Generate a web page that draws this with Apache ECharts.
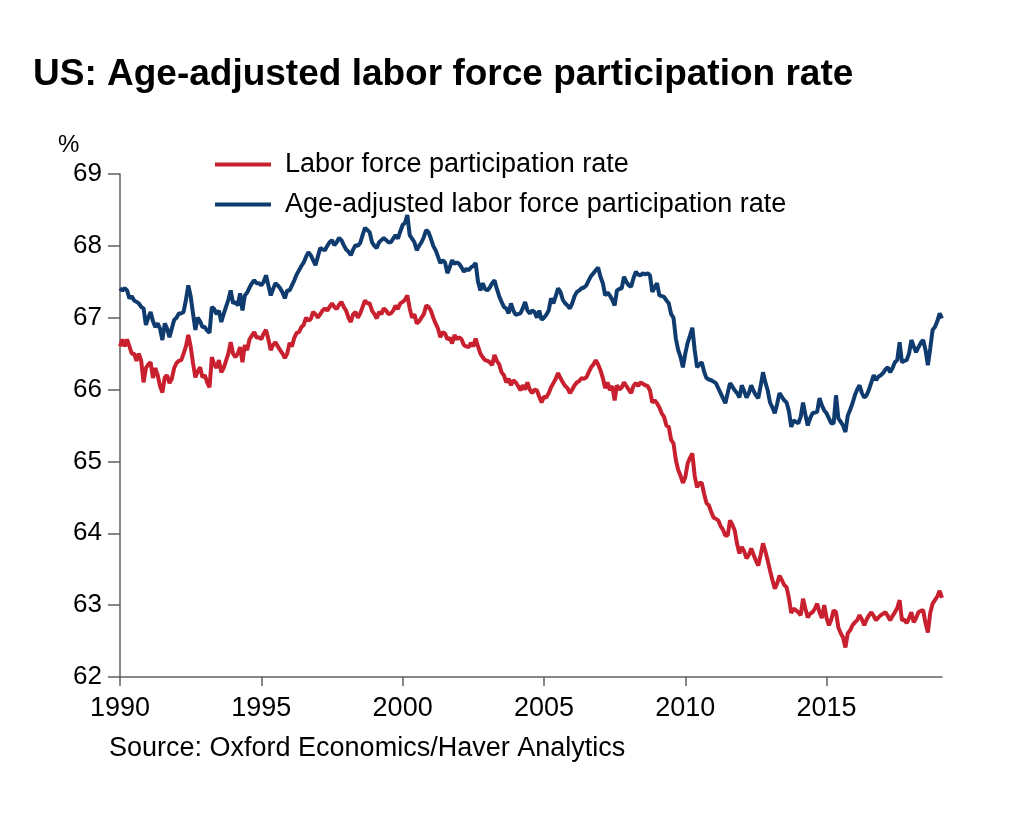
<!DOCTYPE html>
<html>
<head>
<meta charset="utf-8">
<script src="https://cdn.jsdelivr.net/npm/echarts@6/dist/echarts.min.js"></script>
<style>
  html, body { margin: 0; padding: 0; background: #fff; }
  #chart { width: 1024px; height: 813px; }
</style>
</head>
<body>
<div id="chart"></div>
<script>
// ===== 数据 (monthly, Jan 1990 - Feb 2019) =====
const START_YEAR = 1990
const lfpr = [
  66.6, 66.7, 66.6, 66.7, 66.6, 66.5, 66.5, 66.4, 66.5, 66.4, 66.1, 66.3,
  66.35, 66.38, 66.16, 66.3, 66.2, 66.05, 65.96, 66.17, 66.2, 66.09, 66.15, 66.3,
  66.37, 66.4, 66.41, 66.5, 66.6, 66.76, 66.6, 66.37, 66.17, 66.25, 66.31, 66.17,
  66.2, 66.1, 66.03, 66.45, 66.35, 66.3, 66.41, 66.24, 66.3, 66.4, 66.5, 66.66,
  66.5, 66.45, 66.5, 66.59, 66.38, 66.62, 66.55, 66.7, 66.75, 66.8, 66.72, 66.73,
  66.7, 66.78, 66.83, 66.7, 66.55, 66.62, 66.66, 66.6, 66.55, 66.5, 66.44, 66.5,
  66.65, 66.6, 66.72, 66.79, 66.8, 66.87, 66.9, 67.0, 66.96, 66.98, 67.08, 67.05,
  67.0, 67.05, 67.1, 67.13, 67.1, 67.15, 67.2, 67.15, 67.12, 67.18, 67.22, 67.15,
  67.1, 67.0, 66.94, 67.05, 67.08, 67.0, 67.06, 67.15, 67.24, 67.2, 67.2, 67.1,
  67.05, 66.99, 67.08, 67.05, 67.13, 67.1, 67.05, 67.06, 67.1, 67.17, 67.12, 67.2,
  67.22, 67.25, 67.31, 67.13, 67.0, 67.05, 66.92, 66.95, 67.0, 67.05, 67.17, 67.15,
  67.1, 67.0, 66.92, 66.85, 66.73, 66.8, 66.78, 66.7, 66.72, 66.64, 66.76, 66.7,
  66.73, 66.7, 66.62, 66.6, 66.59, 66.65, 66.6, 66.71, 66.6, 66.5, 66.45, 66.41,
  66.4, 66.38, 66.34, 66.48, 66.4, 66.35, 66.24, 66.2, 66.1, 66.15, 66.06, 66.13,
  66.1, 66.05, 65.99, 66.06, 66.0, 66.1, 66.0, 65.95, 66.0, 65.99, 65.9, 65.82,
  65.9, 65.89, 65.95, 66.03, 66.09, 66.15, 66.23, 66.16, 66.1, 66.05, 66.02, 65.95,
  66.0, 66.06, 66.1, 66.12, 66.16, 66.15, 66.17, 66.24, 66.31, 66.35, 66.41, 66.35,
  66.27, 66.16, 66.02, 66.1, 65.99, 66.05, 65.85, 66.06, 66.0, 66.03, 66.1, 66.05,
  66.0, 65.95, 66.05, 66.09, 66.05, 66.1, 66.08, 66.06, 66.05, 65.99, 65.82, 65.85,
  65.81, 65.75, 65.67, 65.62, 65.5, 65.48, 65.3, 65.25, 65.02, 64.88, 64.8, 64.7,
  64.78, 64.97, 65.05, 65.11, 64.8, 64.64, 64.7, 64.7, 64.55, 64.42, 64.39, 64.3,
  64.22, 64.2, 64.18, 64.1, 64.05, 63.97, 63.97, 64.18, 64.12, 64.04, 63.85, 63.72,
  63.81, 63.75, 63.65, 63.7, 63.79, 63.7, 63.62, 63.55, 63.7, 63.86, 63.75, 63.62,
  63.48, 63.35, 63.23, 63.3, 63.41, 63.35, 63.28, 63.25, 63.1, 62.89, 62.95, 62.93,
  62.9, 62.86, 63.09, 62.95, 62.83, 62.88, 62.9, 62.95, 63.02, 62.9, 62.82, 63.0,
  62.82, 62.72, 62.8, 62.93, 62.9, 62.69, 62.61, 62.55, 62.41, 62.61, 62.65, 62.72,
  62.76, 62.79, 62.86, 62.8, 62.72, 62.8, 62.86, 62.9, 62.85, 62.79, 62.83, 62.86,
  62.88, 62.9, 62.85, 62.79, 62.85, 62.9, 62.96, 63.07, 62.79, 62.8, 62.75, 62.82,
  62.9, 62.76, 62.82, 62.9, 62.92, 62.93, 62.75, 62.62, 62.89, 63.02, 63.07, 63.12,
  63.2, 63.1
]
const ageAdjusted = [
  67.41, 67.38, 67.41, 67.38, 67.27, 67.3, 67.24, 67.22, 67.2, 67.15, 67.13, 66.9,
  67.0, 67.08, 66.95, 66.87, 66.92, 66.85, 66.69, 66.92, 66.85, 66.73, 66.85, 66.97,
  67.0, 67.06, 67.06, 67.08, 67.25, 67.45, 67.3, 67.06, 66.83, 67.0, 66.95, 66.87,
  66.87, 66.82, 66.79, 67.15, 67.12, 67.05, 67.1, 66.94, 67.05, 67.15, 67.25, 67.38,
  67.2, 67.22, 67.17, 67.34, 67.1, 67.31, 67.35, 67.42, 67.48, 67.52, 67.48, 67.48,
  67.45, 67.5, 67.59, 67.45, 67.31, 67.4, 67.48, 67.45, 67.41, 67.35, 67.27, 67.38,
  67.38, 67.45, 67.52, 67.6, 67.66, 67.72, 67.77, 67.85, 67.91, 67.87, 67.8, 67.73,
  67.85, 67.97, 67.95, 67.94, 68.0, 68.05, 68.08, 68.01, 68.05, 68.11, 68.08, 68.01,
  67.95, 67.92, 67.87, 67.95, 68.01, 68.0, 68.04, 68.15, 68.25, 68.22, 68.19, 68.05,
  68.0, 67.97, 68.05, 68.08, 68.11, 68.08, 68.05, 68.05, 68.1, 68.15, 68.1, 68.2,
  68.29, 68.32, 68.43, 68.15, 68.1, 68.05, 67.94, 68.0, 68.05, 68.12, 68.22, 68.19,
  68.1, 68.0, 67.94, 67.85, 67.76, 67.8, 67.77, 67.62, 67.7, 67.8, 67.75, 67.77,
  67.75, 67.7, 67.64, 67.68, 67.66, 67.7, 67.72, 67.76, 67.5, 67.38, 67.48, 67.4,
  67.38, 67.42, 67.48, 67.52, 67.4, 67.3, 67.22, 67.15, 67.13, 67.06, 67.2, 67.1,
  67.04, 67.05, 67.06, 67.13, 67.22, 67.1, 67.06, 67.1, 67.08, 67.0, 67.1, 66.97,
  67.0, 67.04, 67.1, 67.27, 67.2, 67.3, 67.41, 67.36, 67.25, 67.2, 67.17, 67.13,
  67.2, 67.3, 67.36, 67.38, 67.41, 67.42, 67.45, 67.52, 67.58, 67.62, 67.66, 67.7,
  67.57, 67.48, 67.31, 67.35, 67.31, 67.25, 67.17, 67.38, 67.4, 67.41, 67.57, 67.5,
  67.45, 67.43, 67.55, 67.64, 67.6, 67.59, 67.62, 67.6, 67.62, 67.59, 67.36, 67.42,
  67.48, 67.31, 67.3, 67.29, 67.24, 67.2, 67.05, 67.0, 66.71, 66.55, 66.45, 66.31,
  66.5, 66.65, 66.75, 66.86, 66.55, 66.31, 66.35, 66.38, 66.25, 66.16, 66.14, 66.13,
  66.11, 66.09, 66.02, 65.95, 65.88, 65.81, 65.95, 66.09, 66.04, 65.99, 65.95, 65.89,
  66.06, 65.98, 65.89, 65.95, 66.06, 65.98, 65.92, 65.88, 66.05, 66.24, 66.1, 65.99,
  65.82, 65.75, 65.67, 65.8, 65.95, 65.9, 65.85, 65.82, 65.7, 65.48, 65.57, 65.55,
  65.53, 65.62, 65.82, 65.65, 65.5, 65.6, 65.67, 65.68, 65.69, 65.88, 65.78, 65.71,
  65.67, 65.6, 65.53, 65.53, 65.92, 65.6, 65.55, 65.5, 65.41, 65.64, 65.72, 65.81,
  65.92, 66.0, 66.06, 65.95, 65.89, 65.92, 66.0, 66.1, 66.2, 66.13, 66.18, 66.2,
  66.23, 66.28, 66.31, 66.24, 66.3, 66.38, 66.41, 66.66, 66.38, 66.4, 66.41, 66.5,
  66.69, 66.6, 66.52, 66.59, 66.65, 66.69, 66.55, 66.34, 66.57, 66.83, 66.87, 66.95,
  67.06, 66.99
]
const seriesNames = ['Labor force participation rate', 'Age-adjusted labor force participation rate']
const seriesColors = ['#c8202f', '#0f3b6f']
const yMin = 62
const yMax = 69

// 月份类目
const months = lfpr.map((_, i) => {
  const y = START_YEAR + Math.floor(i / 12)
  const m = (i % 12) + 1
  return `${y}-${String(m).padStart(2, '0')}`
})

const FONT = 'Liberation Sans, Arial, sans-serif'
const AXIS_COLOR = '#606060'
const yearTick = (idx) => idx % 60 === 0

const chart = echarts.init(document.getElementById('chart'))

chart.setOption({
  animation: false,
  backgroundColor: '#fff',
  textStyle: { fontFamily: FONT, color: '#000' },
  title: [
    {
      text: 'US: Age-adjusted labor force participation rate',
      left: 28, top: 51,
      textStyle: { fontFamily: FONT, fontSize: 37, fontWeight: 'bold', color: '#000' },
    },
    {
      text: '%',
      left: 53, top: 128,
      textStyle: { fontFamily: FONT, fontSize: 24, fontWeight: 'normal', color: '#000' },
    },
    {
      text: 'Source: Oxford Economics/Haver Analytics',
      left: 104, top: 730,
      textStyle: { fontFamily: FONT, fontSize: 27, fontWeight: 'normal', color: '#000' },
    },
  ],
  legend: {
    orient: 'vertical',
    left: 210, top: 146,
    itemWidth: 56, itemHeight: 4,
    itemGap: 13,
    icon: 'rect',
    textStyle: { fontFamily: FONT, fontSize: 27, color: '#000', padding: [0, 0, 0, 9] },
    data: seriesNames,
  },
  grid: { left: 120, right: 82, top: 174, bottom: 136 },
  xAxis: {
    type: 'category',
    data: months,
    boundaryGap: false,
    axisLine: { lineStyle: { color: AXIS_COLOR, width: 1.5 } },
    axisTick: { interval: yearTick, length: 9, lineStyle: { color: AXIS_COLOR, width: 1.5 } },
    axisLabel: {
      interval: yearTick,
      formatter: (v) => v.slice(0, 4),
      fontFamily: FONT, fontSize: 27, color: '#000', margin: 18,
    },
    splitLine: { show: false },
  },
  yAxis: {
    type: 'value',
    min: yMin, max: yMax, interval: 1,
    axisLine: { show: true, lineStyle: { color: AXIS_COLOR, width: 1.5 } },
    axisTick: { show: true, length: 12, lineStyle: { color: AXIS_COLOR, width: 1.5 } },
    axisLabel: { fontFamily: FONT, fontSize: 26, color: '#000', margin: 18 },
    splitLine: { show: false },
  },
  series: [
    {
      name: seriesNames[0],
      type: 'line',
      data: lfpr,
      showSymbol: false,
      color: seriesColors[0],
      lineStyle: { width: 4, color: seriesColors[0] },
    },
    {
      name: seriesNames[1],
      type: 'line',
      data: ageAdjusted,
      showSymbol: false,
      color: seriesColors[1],
      lineStyle: { width: 4, color: seriesColors[1] },
    },
  ],
})
</script>
</body>
</html>
